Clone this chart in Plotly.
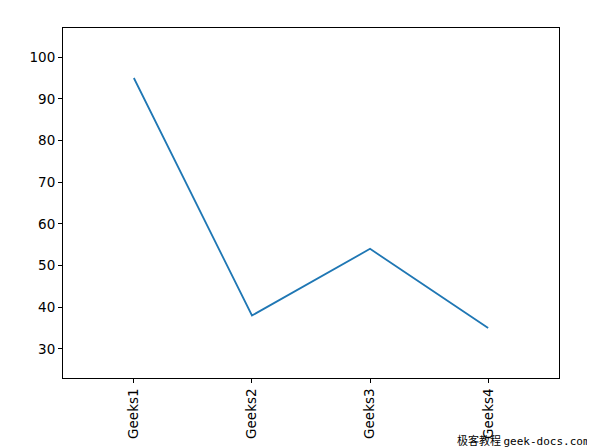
import plotly.graph_objects as go

categories = ["Geeks1", "Geeks2", "Geeks3", "Geeks4"]
values = [95, 38, 54, 35]
y_ticks = [30, 40, 50, 60, 70, 80, 90, 100]

fig = go.Figure()

fig.add_trace(go.Scatter(x=categories, y=values,
                mode='lines',
                line=dict(color='#1f77b4', width=1.8),
                showlegend=False))

axis_style = dict(showline=True, linecolor='black', linewidth=1, mirror=True,
                  ticks='outside', ticklen=4, tickcolor='black',
                  showgrid=False, zeroline=False,
                  tickfont=dict(family='DejaVu Sans', size=13.5, color='black'))

fig.update_xaxes(range=[-0.6, 3.6], tickangle=-90, **axis_style)
fig.update_yaxes(range=[23, 107], tickvals=y_ticks, **axis_style)

# watermark in the bottom right corner
fig.add_annotation(text="极客教程 <span style='font-family:DejaVu Sans Mono'>geek-docs.com</span>",
                   xref='paper', yref='paper',
                   x=1.066, y=-0.177, xanchor='right', yanchor='middle',
                   showarrow=False,
                   font=dict(family='Noto Sans CJK SC', size=11, color='black'))

# page is offset by the body margin of 8px, so margins are shifted
fig.update_layout(width=595, height=448,
                  margin=dict(l=55, r=44, t=20, b=78),
                  plot_bgcolor='white', paper_bgcolor='white')

fig.write_html("out.html")
